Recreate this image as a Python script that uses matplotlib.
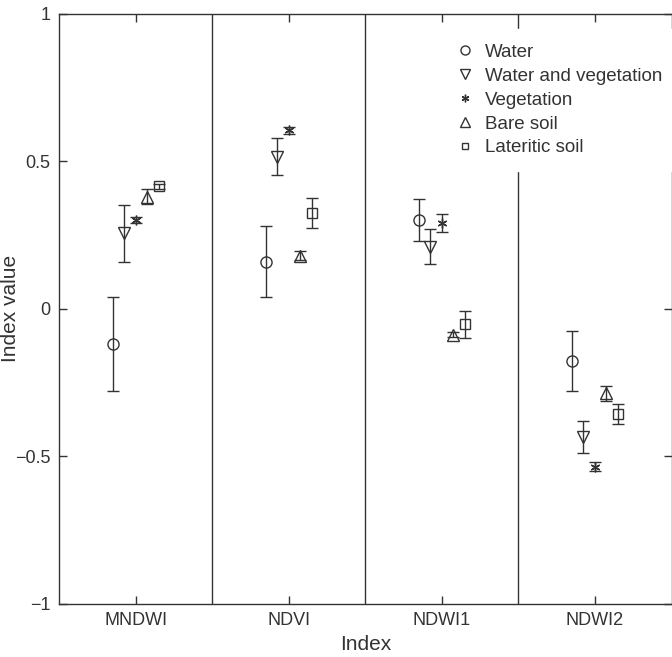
import numpy as np
import matplotlib
matplotlib.use('Agg')
from matplotlib import pyplot as plt
from matplotlib.lines import Line2D

plt.rcParams['font.family'] = ['Liberation Sans', 'DejaVu Sans']

indices = ['MNDWI', 'NDVI', 'NDWI1', 'NDWI2']
classes = ['Water', 'Water and vegetation', 'Vegetation', 'Bare soil', 'Lateritic soil']

# mean index value per class, one list per index
mndwi = [-0.12, 0.255, 0.30, 0.38, 0.415]
ndvi = [0.16, 0.515, 0.605, 0.18, 0.325]
ndwi1 = [0.30, 0.21, 0.29, -0.088, -0.053]
ndwi2 = [-0.176, -0.435, -0.535, -0.287, -0.357]

# half-width of the error bars
mndwi_err = [0.16, 0.095, 0.01, 0.025, 0.008]
ndvi_err = [0.12, 0.063, 0.012, 0.015, 0.05]
ndwi1_err = [0.072, 0.06, 0.03, 0.008, 0.046]
ndwi2_err = [0.102, 0.055, 0.015, 0.026, 0.033]

means = np.array([mndwi, ndvi, ndwi1, ndwi2])
errs = np.array([mndwi_err, ndvi_err, ndwi1_err, ndwi2_err])

ink = '#333333'
markers = ['o', 'v', (6, 2, 0), '^', 's']
msizes = [8, 9, 7, 8.5, 6.5]
offsets = [-0.15, -0.075, 0.0, 0.075, 0.15]

fig = plt.figure(figsize=(6.72, 6.57), dpi=100)
ax = fig.add_axes([59 / 672, 53 / 657, 612.5 / 672, 590.5 / 657])

x = np.arange(1, len(indices) + 1)
for k in range(len(classes)):
    ax.errorbar(x + offsets[k], means[:, k], yerr=errs[:, k], fmt='none',
                ecolor=ink, elinewidth=1.0, capsize=4.5, capthick=1.0)
    ax.plot(x + offsets[k], means[:, k], ls='none', marker=markers[k],
            ms=msizes[k], mfc='none', mec=ink, mew=1.0)

for d in [1.5, 2.5, 3.5]:
    ax.axvline(d, color=ink, lw=1.0, zorder=1)

ax.set_xlim(0.5, 4.5)
ax.set_ylim(-1, 1)
ax.set_xticks(x)
ax.set_xticklabels(indices)
ax.set_yticks([-1, -0.5, 0, 0.5, 1])
ax.set_yticklabels(['\u22121', '\u22120.5', '0', '0.5', '1'])
ax.tick_params(direction='in', length=6, width=1.0, color=ink, labelcolor=ink,
               labelsize=13, top=True, right=True, pad=6)
for s in ax.spines.values():
    s.set_color(ink)
    s.set_linewidth(1.0)

ax.set_xlabel('Index', fontsize=15, color=ink, labelpad=4)
ax.set_ylabel('Index value', fontsize=15, color=ink)
ax.yaxis.set_label_coords(-0.063, 0.5)

handles = [Line2D([], [], ls='none', marker=markers[k], ms=msizes[k] - 1.5,
                  mfc='none', mec=ink, mew=1.0) for k in range(len(classes))]
leg = ax.legend(handles, classes, loc='upper right', bbox_to_anchor=(1.025, 0.99),
                frameon=True, fancybox=False, framealpha=1, edgecolor='white',
                facecolor='white', fontsize=13.5, handlelength=1.0,
                handletextpad=0.55, labelspacing=0.36, borderpad=0.8)
for t in leg.get_texts():
    t.set_color(ink)

fig.savefig('out.png', dpi=100)
